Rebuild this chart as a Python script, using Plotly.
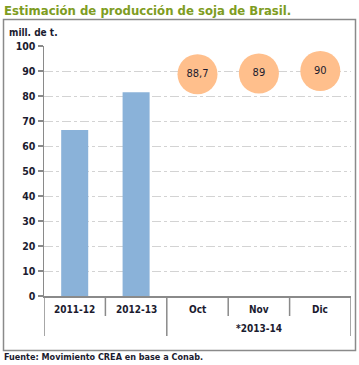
import plotly.graph_objects as go

categories = ["2011-12", "2012-13", "Oct", "Nov", "Dic"]
group_label = "*2013-14"
group_members = [2, 3, 4]
bar_values = [66.4, 81.5]
est_values = [88.7, 89, 90]
est_labels = ["88,7", "89", "90"]
y_ticks = [0, 10, 20, 30, 40, 50, 60, 70, 80, 90, 100]

FONT = "DejaVu Sans Condensed, DejaVu Sans"
TXT = "#1b1b2f"
AX = "#8A8A8A"

xs = list(range(len(categories)))

fig = go.Figure()
fig.add_trace(go.Bar(
    x=xs[:2], y=bar_values,
    marker=dict(color="#8AB2D9", line=dict(width=0)),
    width=0.44, hoverinfo="skip",
))
fig.add_trace(go.Scatter(
    x=xs[2:], y=est_values,
    mode="markers+text", text=est_labels, textposition="middle center",
    textfont=dict(family=FONT, size=11, color=TXT),
    marker=dict(size=40, color="#FFBF8C", line=dict(width=0)),
    hoverinfo="skip", cliponaxis=False,
))

W, H = 359, 365
L, R, T, B = 44, 8, 46, 69
pw, ph = W - L - R, H - T - B

def px(x):
    return (x - L) / pw

def py(y):
    return (H - B - y) / ph

shapes = [dict(
    type="rect", xref="paper", yref="paper",
    x0=px(3.5), x1=px(355.5), y0=py(350.5), y1=py(19.5),
    line=dict(color=AX, width=1.5), fillcolor="rgba(0,0,0,0)",
    layer="below",
)]
# category dividers: boundaries between categories
for i in range(len(categories) + 1):
    b = i - 0.5
    full = (i == 0) or (i == len(categories)) or (i == group_members[0])
    shapes.append(dict(
        type="line", xref="x", yref="paper",
        x0=b, x1=b, y0=0, y1=py(336 if full else 316),
        line=dict(color=AX, width=1.5),
    ))

annotations = [
    dict(text="Estimación de producción de soja de Brasil.", xref="paper", yref="paper",
         x=px(2), y=py(10), xanchor="left", yanchor="middle", showarrow=False,
         font=dict(family=FONT, size=13, color="#7E9C22", weight="bold")),
    dict(text="mill. de t.", xref="paper", yref="paper",
         x=px(7), y=py(33), xanchor="left", yanchor="middle", showarrow=False,
         font=dict(family=FONT, size=10, color=TXT, weight="bold")),
    dict(text="Fuente: Movimiento CREA en base a Conab.", xref="paper", yref="paper",
         x=px(2), y=py(357), xanchor="left", yanchor="middle", showarrow=False,
         font=dict(family=FONT, size=9, color=TXT, weight="bold")),
    dict(text=group_label, xref="x", yref="paper",
         x=sum(group_members) / len(group_members), y=py(328),
         xanchor="center", yanchor="middle", showarrow=False,
         font=dict(family=FONT, size=10, color=TXT, weight="bold")),
]
for i, c in enumerate(categories):
    annotations.append(dict(
        text=c, xref="x", yref="paper", x=i, y=py(309),
        xanchor="center", yanchor="middle", showarrow=False,
        font=dict(family=FONT, size=10, color=TXT, weight="bold")))

fig.update_layout(
    width=W, height=H, autosize=False,
    margin=dict(l=L, r=R, t=T, b=B, pad=0),
    paper_bgcolor="white", plot_bgcolor="white",
    showlegend=False,
    font=dict(family=FONT, size=10, color=TXT),
    xaxis=dict(
        range=[-0.5, 4.5], tickvals=xs, showticklabels=False,
        showline=True, linecolor=AX, linewidth=1.5,
        ticks="", showgrid=False, zeroline=False, automargin=False,
    ),
    yaxis=dict(
        range=[0, 100], tickvals=y_ticks,
        showline=True, linecolor=AX, linewidth=1.5,
        ticks="outside", ticklen=5, tickcolor=AX, tickwidth=1.5,
        showgrid=True, gridcolor="#D3D3D3", griddash="dashdot", gridwidth=1,
        zeroline=False, automargin=False,
        tickfont=dict(family=FONT, size=10.5, color=TXT, weight="bold"),
    ),
    shapes=shapes,
    annotations=annotations,
)

fig.write_html(
    "out.html",
    config={"displayModeBar": False, "staticPlot": True},
    post_script="document.body.style.margin='0';document.body.style.overflow='hidden';",
)
